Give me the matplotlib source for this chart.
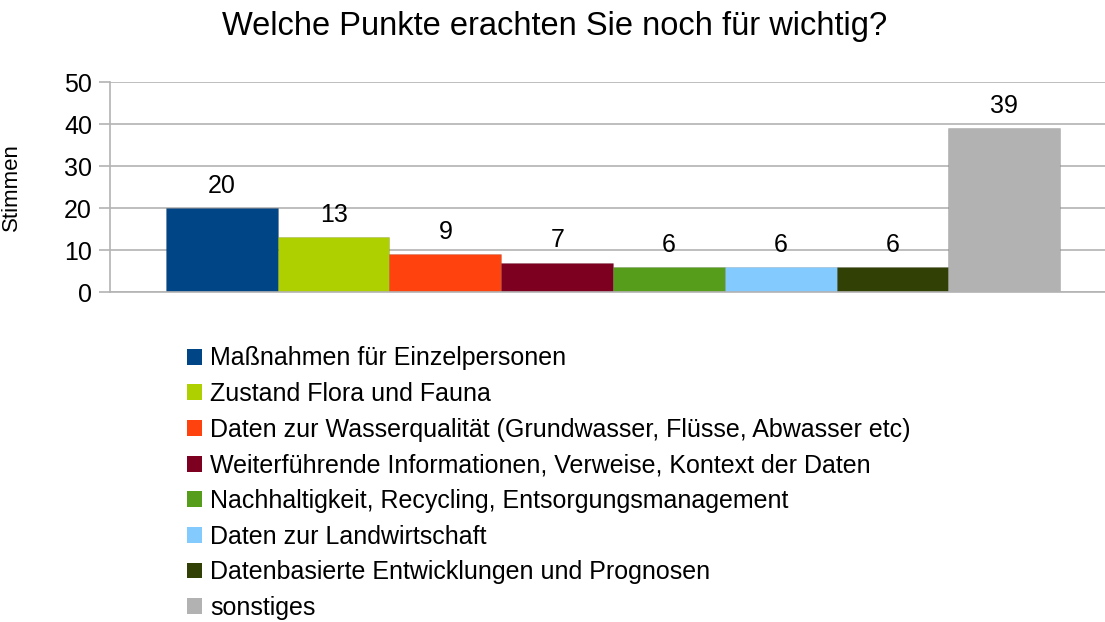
import numpy as np
import matplotlib.pyplot as plt
from matplotlib.patches import Patch

plt.rcParams["font.family"] = ["Liberation Sans", "DejaVu Sans"]

categories = [
    "Maßnahmen für Einzelpersonen",
    "Zustand Flora und Fauna",
    "Daten zur Wasserqualität (Grundwasser, Flüsse, Abwasser etc)",
    "Weiterführende Informationen, Verweise, Kontext der Daten",
    "Nachhaltigkeit, Recycling, Entsorgungsmanagement",
    "Daten zur Landwirtschaft",
    "Datenbasierte Entwicklungen und Prognosen",
    "sonstiges",
]
votes = [20, 13, 9, 7, 6, 6, 6, 39]
colors = ["#004586", "#aecf00", "#ff420e", "#7e0021",
          "#579d1c", "#83caff", "#314004", "#b2b2b2"]

W, H = 1105, 622
fig = plt.figure(figsize=(W / 100, H / 100), dpi=100)
ax = fig.add_axes([110 / W, 1 - 292 / H, (W - 110) / W, 210 / H])

x = np.arange(len(votes))
ax.bar(x, votes, width=1.0, color=colors, edgecolor="#00000022",
       linewidth=0.6, zorder=3)
for xi, v in zip(x, votes):
    ax.text(xi, v + 5.3, str(v), ha="center", va="center", fontsize=18)

ax.set_xlim(-1.0, 7.9)
ax.set_ylim(0, 50)
ax.set_yticks(range(0, 51, 10))
ax.set_xticks([])
ax.grid(axis="y", color="#b3b3b3", linewidth=1.2, zorder=0)
for s in ["top", "right"]:
    ax.spines[s].set_visible(False)
for s in ["left", "bottom"]:
    ax.spines[s].set_color("#b3b3b3")
    ax.spines[s].set_linewidth(1.2)
ax.spines["bottom"].set_zorder(4)
ax.tick_params(axis="y", length=8, width=1.2, color="#b3b3b3",
               labelsize=18, pad=5)
ax.set_ylabel("Stimmen", fontsize=16)
ax.yaxis.set_label_coords(-88 / (W - 110), 0.5)

fig.text(555 / W, 1 - 26 / H, "Welche Punkte erachten Sie noch für wichtig?",
         ha="center", va="center", fontsize=23.5)

handles = [Patch(facecolor=c, edgecolor="none") for c in colors]
fig.legend(handles, categories, loc="upper left",
           bbox_to_anchor=(174 / W, 1 - 334 / H), frameon=False,
           fontsize=18, handlelength=0.6, handleheight=0.6,
           handletextpad=0.35, labelspacing=0.465, borderpad=0)

fig.savefig("out.png", dpi=100)
